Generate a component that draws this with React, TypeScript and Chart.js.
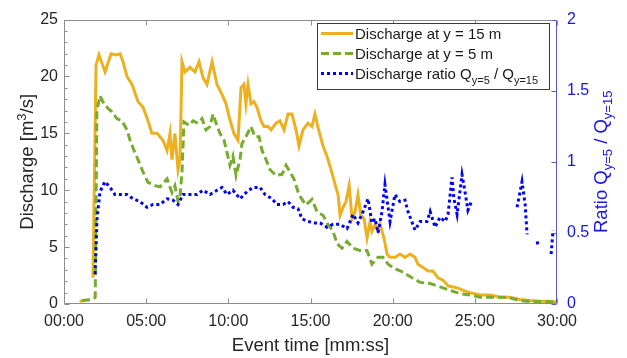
import React, { useEffect, useRef } from 'react';
import { Chart, registerables } from 'chart.js';

Chart.register(...registerables);

// ---------- data (time in minutes) ----------
const q15Time = [
  0.95, 1.3, 1.5, 1.76, 1.95, 2.13, 2.5, 2.86, 3.16, 3.41, 3.59, 3.83, 4.14, 4.5, 4.81, 5.11, 5.35, 5.66,
  6.02, 6.27, 6.45, 6.57, 6.75, 6.94, 7.06, 7.18, 7.36, 7.67, 7.97, 8.22, 8.46, 8.7, 9.01, 9.31, 9.62,
  9.86, 10.04, 10.34, 10.59, 10.77, 10.95, 11.07, 11.2, 11.38, 11.56, 11.74, 11.99, 12.17, 12.41, 12.6,
  12.9, 13.14, 13.39, 13.63, 13.87, 14.12, 14.3, 14.54, 14.85, 15.09, 15.27, 15.46, 15.76, 16.0, 16.25,
  16.5, 16.68, 16.8, 16.98, 17.16, 17.35, 17.53, 17.71, 17.89, 18.07, 18.26, 18.44, 18.62, 18.74, 18.93,
  19.11, 19.23, 19.47, 19.66, 19.84, 20.14, 20.44, 20.75, 21.05, 21.36, 21.54, 21.85, 22.15, 22.45,
  22.76, 23.06, 23.37, 23.67, 23.98, 24.28, 24.7, 25.01, 25.31, 25.92, 26.53, 27.14, 27.75, 28.36,
  28.97, 29.57, 29.94,
];
const q15Values = [
  0.25, 0.3, null, 2.3, 21.0, 21.9, 20.4, 22.0, 21.9, 22.0, 21.3, 20.0, 19.3, 17.8, 17.3, 16.1, 15.0, 15.0,
  14.4, 13.5, 15.0, 12.7, 15.0, 11.8, 12.7, 21.3, 20.4, 20.8, 20.4, 21.3, 19.9, 19.3, 21.3, 19.3, 18.4,
  17.6, 16.5, 15.0, 14.4, 19.0, 19.3, 17.6, 19.3, 17.6, 17.8, 17.3, 16.1, 15.6, 15.6, 15.3,
  15.9, 16.1, 15.3, 16.7, 16.7, 15.3, 13.9, 15.3, 15.9, 15.6, 16.7, 15.5, 13.9, 13.0, 11.8,
  10.5, 9.6, 7.8, 8.5, 9.0, 10.4, 7.5, 8.1, 9.6, 7.8, 7.5, 5.8, 7.2, 6.4, 7.0,
  6.4, 7.0, 5.8, 4.4, 4.1, 4.1, 4.4, 4.1, 4.4, 4.1, 3.5, 3.2, 2.9, 2.9,
  2.3, 2.1, 1.6, 1.5, 1.4, 1.2, 1.0, 0.9, 0.8, 0.8, 0.6, 0.6, 0.4, 0.3,
  0.25, 0.25, 0.2,
];

const q5Time = [
  1.1, 1.7, 1.83, 1.9, 2.0, 2.19, 2.43, 2.68, 2.92, 3.22, 3.53, 3.83, 4.02, 4.26, 4.5, 4.81, 5.11, 5.54,
  5.84, 6.27, 6.57, 6.75, 6.94, 7.06, 7.18, 7.3, 7.61, 7.85, 8.15, 8.4, 8.64, 8.88, 9.07, 9.25, 9.49,
  9.74, 9.92, 10.1, 10.28, 10.47, 10.71, 10.83, 11.07, 11.38, 11.62, 11.87, 12.05, 12.29, 12.54, 12.9,
  13.27, 13.51, 13.75, 13.99, 14.3, 14.72, 15.09, 15.4, 15.76, 16.06, 16.37, 16.62, 16.92, 17.22, 17.59,
  18.01, 18.44, 18.74, 19.11, 19.41, 19.72, 20.14, 20.63, 21.18, 21.67, 22.28, 22.88, 23.49, 24.1,
  24.71, 25.31, 26.1, 26.96, 27.75, 28.54, 29.39, 30.0,
];
const q5Values = [
  0.3, 0.4, 0.5, 0.6, 17.0, 18.3, 17.6, 17.2, 16.9, 16.3, 16.1, 15.3, 14.4, 13.5, 12.7, 11.6, 10.7, 10.4,
  10.3, 11.0, 9.8, 10.4, 9.0, 9.5, 11.6, 16.0, 15.7, 16.1, 15.9, 16.3, 15.3, 15.6, 16.7, 15.9, 15.0,
  14.4, 13.3, 12.2, 13.0, 11.3, 12.7, 14.1, 14.7, 15.6, 14.7, 14.7, 13.5, 12.7, 11.8, 11.3,
  11.4, 12.2, 11.6, 11.0, 9.6, 8.7, 9.2, 8.1, 7.8, 7.0, 6.4, 5.3, 4.9, 5.5, 4.9,
  4.7, 4.7, 3.5, 4.1, 4.1, 3.5, 3.1, 2.8, 2.3, 1.9, 1.8, 1.5, 1.2, 0.9,
  0.8, 0.6, 0.6, 0.6, 0.3, 0.2, 0.2, 0.15,
];

const ratioTime = [
  1.89, 2.01, 2.19, 2.49, 2.8, 3.1, 3.53, 3.83, 4.2, 4.62, 5.05, 5.42, 5.84, 6.27, 6.63, 6.94, 7.24, 7.67,
  8.09, 8.46, 8.88, 9.31, 9.62, 9.92, 10.28, 10.71, 11.14, 11.5, 11.93, 12.23, 12.66, 12.96, 13.33, 13.63,
  13.94, 14.24, 14.48, 14.85, 15.27, 15.58, 16.0, 16.37, 16.8, 17.22, 17.59, 17.89, 18.2, 18.5, 18.74,
  18.93, 19.11, 19.35, 19.53, 19.84, 20.14, 20.44, 20.75, 20.93, 21.36, 21.67, 22.09, 22.28, 22.58, 22.88,
  23.19, 23.37, 23.61, 23.73, 23.92, 24.22, 24.4, 24.58, 24.83, 25.5, 27.57, 27.87, 28.06, 28.18, 28.4,
  28.79, 28.85, 29.2, 29.64, 29.76,
];
const ratioValues = [
  0.21, 0.6, 0.79, 0.86, 0.82, 0.77, 0.77, 0.77, 0.74, 0.72, 0.68, 0.7, 0.7, 0.74, 0.73, 0.7, 0.77, 0.77,
  0.77, 0.8, 0.77, 0.8, 0.82, 0.77, 0.8, 0.74, 0.79, 0.82, 0.82, 0.77, 0.74, 0.7, 0.7, 0.72,
  0.68, 0.67, 0.6, 0.58, 0.57, 0.57, 0.54, 0.56, 0.56, 0.53, 0.63, 0.57, 0.65, 0.74, 0.57,
  0.6, 0.5, 0.65, 0.84, 0.58, 0.77, 0.72, 0.73, 0.65, 0.52, 0.58, 0.58, 0.65, 0.54, 0.61,
  0.58, 0.63, 0.89, 0.74, 0.63, 0.91, 0.79, 0.66, 0.73, null, 0.68, 0.86, 0.7, 0.49, null,
  0.44, 0.41, null, 0.35, 0.52,
];

const xTickValues = [0, 5, 10, 15, 20, 25, 30];
const leftTickValues = [0, 5, 10, 15, 20, 25];
const rightTickValues = [0, 0.5, 1, 1.5, 2];

const legendLabels = ['Discharge at y = 15 m', 'Discharge at y = 5 m', 'Discharge ratio Q'];

// ---------- styles ----------
const FONT = '"Liberation Sans", Arial, Helvetica, sans-serif';
const TEXT = '#262626';
const ORANGE = '#EDB120';
const GREEN = '#77AC30';
const BLUE = '#0000FF';
const AXIS_BLUE = '#1515e6';
const BOX_GRAY = '#8c8c8c';

const toPoints = (t: number[], v: (number | null)[]) => t.map((x, i) => ({ x, y: v[i] }));

type Seg = { t: string; size: number; dy: number };
function drawRich(ctx: CanvasRenderingContext2D, segs: Seg[], x: number, y: number, align: 'left' | 'center') {
  let total = 0;
  const widths = segs.map((s) => {
    ctx.font = `${s.size}px ${FONT}`;
    const w = ctx.measureText(s.t).width;
    total += w;
    return w;
  });
  let cx = align === 'center' ? x - total / 2 : x;
  ctx.textAlign = 'left';
  ctx.textBaseline = 'alphabetic';
  segs.forEach((s, i) => {
    ctx.font = `${s.size}px ${FONT}`;
    ctx.fillText(s.t, cx, y + s.dy);
    cx += widths[i];
  });
}

const decorPlugin = {
  id: 'decor',
  afterDraw(chart: any) {
    const { ctx, chartArea: a, scales } = chart;
    const xs = scales.x;
    const yl = scales.y;
    const yr = scales.y1;
    ctx.save();
    const L = Math.round(a.left) + 0.5;
    const R = Math.round(a.right) - 0.5;
    const T = Math.round(a.top) + 0.5;
    const B = Math.round(a.bottom) - 0.5;

    // box
    ctx.lineWidth = 1;
    ctx.strokeStyle = BOX_GRAY;
    ctx.beginPath();
    ctx.moveTo(L, T); ctx.lineTo(R, T);
    ctx.moveTo(L, B); ctx.lineTo(R, B);
    ctx.moveTo(L, T); ctx.lineTo(L, B);
    ctx.stroke();
    ctx.strokeStyle = '#5a5ad8';
    ctx.beginPath();
    ctx.moveTo(R, T); ctx.lineTo(R, B);
    ctx.stroke();

    // x ticks (top and bottom, inward)
    ctx.strokeStyle = BOX_GRAY;
    ctx.beginPath();
    xTickValues.forEach((v) => {
      const px = Math.round(xs.getPixelForValue(v)) + 0.5;
      ctx.moveTo(px, B); ctx.lineTo(px, B - 5);
      ctx.moveTo(px, T); ctx.lineTo(px, T + 5);
    });
    // left major + minor ticks
    for (let v = 0; v <= 25; v += 1) {
      const py = Math.round(yl.getPixelForValue(v)) + 0.5;
      const len = v % 5 === 0 ? 5 : 3;
      ctx.moveTo(L, py); ctx.lineTo(L + len, py);
    }
    ctx.stroke();
    // right ticks
    ctx.strokeStyle = '#5a5ad8';
    ctx.beginPath();
    rightTickValues.forEach((v) => {
      const py = Math.round(yr.getPixelForValue(v)) + 0.5;
      ctx.moveTo(R, py); ctx.lineTo(R - 5, py);
    });
    ctx.stroke();

    // axis titles
    ctx.fillStyle = TEXT;
    drawRich(ctx, [{ t: 'Event time [mm:ss]', size: 18.5, dy: 0 }], (a.left + a.right) / 2, 351, 'center');

    ctx.save();
    ctx.translate(33, (a.top + a.bottom) / 2);
    ctx.rotate(-Math.PI / 2);
    drawRich(
      ctx,
      [
        { t: 'Discharge [m', size: 18.5, dy: 0 },
        { t: '3', size: 13, dy: -7 },
        { t: '/s]', size: 18.5, dy: 0 },
      ],
      0, 0, 'center'
    );
    ctx.restore();

    ctx.save();
    ctx.fillStyle = AXIS_BLUE;
    ctx.translate(607, (a.top + a.bottom) / 2);
    ctx.rotate(-Math.PI / 2);
    drawRich(
      ctx,
      [
        { t: 'Ratio Q', size: 18.5, dy: 0 },
        { t: 'y=5', size: 13, dy: 5 },
        { t: ' / Q', size: 18.5, dy: 0 },
        { t: 'y=15', size: 13, dy: 5 },
      ],
      0, 0, 'center'
    );
    ctx.restore();

    // legend
    const lx = 317.5, ly = 23.5, lw = 232, lh = 66;
    ctx.fillStyle = '#ffffff';
    ctx.fillRect(lx, ly, lw, lh);
    ctx.strokeStyle = '#3a3a3a';
    ctx.lineWidth = 1;
    ctx.strokeRect(lx, ly, lw, lh);
    const rows = [33.5, 53.5, 73.5];
    const styles = [
      { c: ORANGE, dash: [] as number[] },
      { c: GREEN, dash: [8, 4] },
      { c: BLUE, dash: [3, 3] },
    ];
    rows.forEach((ry, i) => {
      ctx.save();
      ctx.strokeStyle = styles[i].c;
      ctx.lineWidth = 3;
      ctx.setLineDash(styles[i].dash);
      ctx.beginPath();
      ctx.moveTo(321, ry); ctx.lineTo(353, ry);
      ctx.stroke();
      ctx.restore();
    });
    ctx.fillStyle = '#1a1a1a';
    drawRich(ctx, [{ t: legendLabels[0], size: 15, dy: 0 }], 355, rows[0] + 5.5, 'left');
    drawRich(ctx, [{ t: legendLabels[1], size: 15, dy: 0 }], 355, rows[1] + 5.5, 'left');
    drawRich(
      ctx,
      [
        { t: legendLabels[2], size: 15, dy: 0 },
        { t: 'y=5', size: 11, dy: 5 },
        { t: ' / Q', size: 15, dy: 0 },
        { t: 'y=15', size: 11, dy: 5 },
      ],
      355, rows[2] + 5.5, 'left'
    );
    ctx.restore();
  },
};

export default function App() {
  const canvasRef = useRef<HTMLCanvasElement | null>(null);

  useEffect(() => {
    if (!canvasRef.current) return;
    const chart = new Chart(canvasRef.current, {
      type: 'line',
      data: {
        datasets: [
          {
            label: 'Discharge at y = 15 m',
            data: toPoints(q15Time, q15Values) as any,
            borderColor: ORANGE,
            borderWidth: 3,
            pointRadius: 0,
            tension: 0,
            yAxisID: 'y',
            order: 3,
            spanGaps: false,
          },
          {
            label: 'Discharge at y = 5 m',
            data: toPoints(q5Time, q5Values) as any,
            borderColor: GREEN,
            borderWidth: 3,
            borderDash: [8, 4],
            pointRadius: 0,
            tension: 0,
            yAxisID: 'y',
            order: 2,
          },
          {
            label: 'Discharge ratio',
            data: toPoints(ratioTime, ratioValues) as any,
            borderColor: BLUE,
            borderWidth: 3,
            borderDash: [3, 3],
            pointRadius: 0,
            tension: 0,
            yAxisID: 'y1',
            order: 1,
            spanGaps: false,
          },
        ],
      },
      options: {
        animation: false,
        responsive: false,
        devicePixelRatio: 1,
        layout: { padding: { top: 14, left: 0, right: 0, bottom: 0 } },
        plugins: { legend: { display: false }, tooltip: { enabled: false } },
        scales: {
          x: {
            type: 'linear',
            min: 0,
            max: 30,
            afterBuildTicks: (s: any) => { s.ticks = xTickValues.map((v) => ({ value: v })); },
            ticks: {
              callback: (v: any) => `${String(v).padStart(2, '0')}:00`,
              font: { family: FONT, size: 16 },
              color: TEXT,
              padding: 8,
              maxRotation: 0,
              autoSkip: false,
            },
            grid: { display: false, drawTicks: false },
            border: { display: false },
            afterFit: (s: any) => { s.height = 54; },
          },
          y: {
            type: 'linear',
            position: 'left',
            min: 0,
            max: 25,
            afterBuildTicks: (s: any) => { s.ticks = leftTickValues.map((v) => ({ value: v })); },
            ticks: { font: { family: FONT, size: 16 }, color: TEXT, padding: 6 },
            grid: { display: false, drawTicks: false },
            border: { display: false },
            afterFit: (s: any) => { s.width = 64; },
          },
          y1: {
            type: 'linear',
            position: 'right',
            min: 0,
            max: 2,
            afterBuildTicks: (s: any) => { s.ticks = rightTickValues.map((v) => ({ value: v })); },
            ticks: {
              font: { family: FONT, size: 16 },
              color: AXIS_BLUE,
              padding: 10,
              callback: (v: any) => String(v),
            },
            grid: { display: false, drawTicks: false },
            border: { display: false },
            afterFit: (s: any) => { s.width = 70; },
          },
        },
      },
      plugins: [decorPlugin],
    });
    return () => chart.destroy();
  }, []);

  return (
    <div style={{ position: 'fixed', left: 0, top: 0, width: 627, height: 358, background: '#fff' }}>
      <canvas ref={canvasRef} width={627} height={358} style={{ display: 'block' }} />
    </div>
  );
}
